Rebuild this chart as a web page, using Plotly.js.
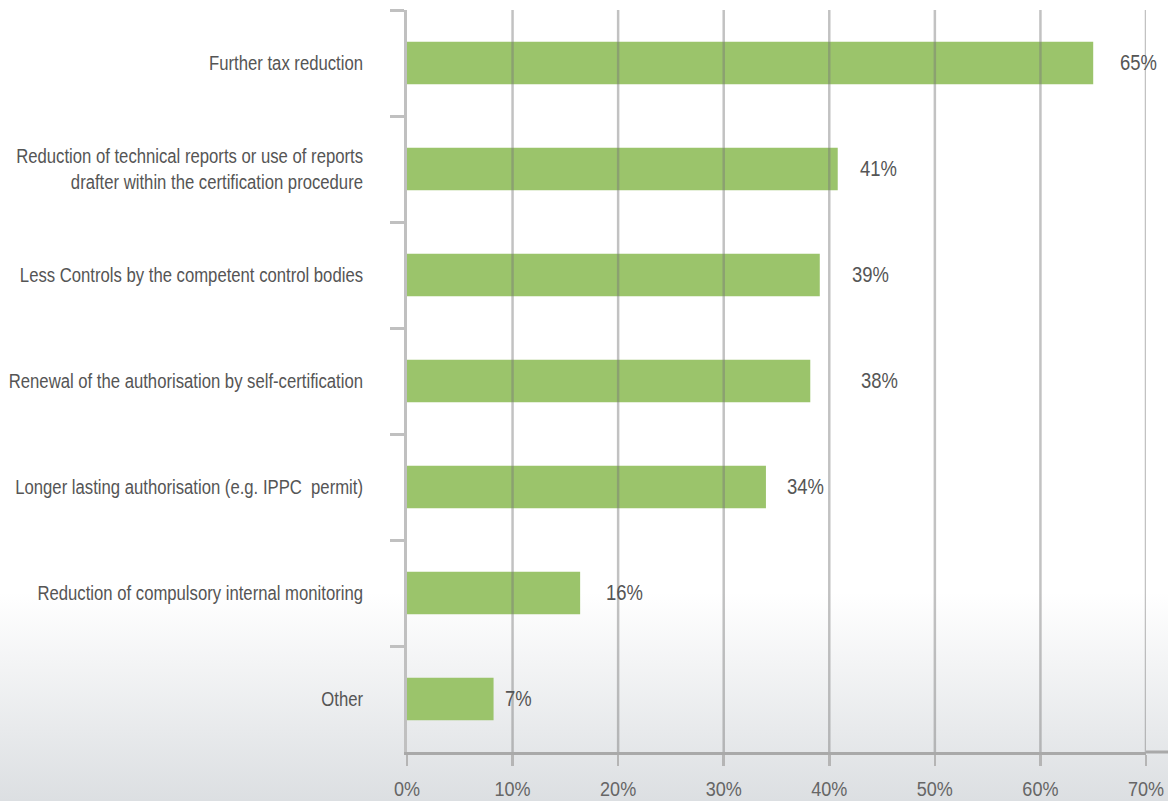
<!DOCTYPE html>
<html>
<head>
<meta charset="utf-8">
<script src="https://cdn.plot.ly/plotly-3.0.1.min.js"></script>
<style>
  html, body { margin: 0; padding: 0; width: 1168px; height: 801px; overflow: hidden;
    background: linear-gradient(to bottom, #ffffff 0%, #ffffff 74%, #dcdfe2 100%); }
  #chart { width: 1168px; height: 801px; }
</style>
</head>
<body>
<div id="chart"></div>
<script>
// ---- data ----
const categories = [
  "Further tax reduction",
  "Reduction of technical reports or use of reports<br>drafter within the certification procedure",
  "Less Controls by the competent control bodies",
  "Renewal of the authorisation by self-certification",
  "Longer lasting authorisation (e.g. IPPC  permit)",
  "Reduction of compulsory internal monitoring",
  "Other"
];
const values = [65, 40.8, 39.1, 38.2, 34.0, 16.4, 8.2];
const valueLabels = ["65%", "41%", "39%", "38%", "34%", "16%", "7%"];
const tickValues = [0, 10, 20, 30, 40, 50, 60, 70];
const tickLabels = ["0%", "10%", "20%", "30%", "40%", "50%", "60%", "70%"];

// ---- styling ----
const FONT = '"Liberation Sans", Arial, sans-serif';
const TEXT = '#555555';
const labelShift = [25, 20, 30, 49, 19, 24, 9];

const trace = {
  type: 'bar',
  orientation: 'h',
  x: values,
  y: categories,
  marker: { color: '#9bc46b', line: { width: 0 } },
  hoverinfo: 'none'
};

const annotations = values.map((v, i) => ({
  x: v, y: categories[i], xref: 'x', yref: 'y',
  text: valueLabels[i], showarrow: false,
  xanchor: 'left', yanchor: 'middle', xshift: labelShift[i], yshift: 1,
  font: { family: FONT, size: 22, color: TEXT }
}));

const shapes = tickValues.filter(t => t > 0).map(t => ({
  type: 'line', xref: 'x', yref: 'paper', x0: t, x1: t, y0: 0, y1: 1,
  line: { color: 'rgba(120,120,120,0.45)', width: 2.5 }, layer: 'above'
}));
// extension of the bottom axis line to the right edge
shapes.push({
  type: 'line', xref: 'paper', yref: 'paper', x0: 1, x1: 1.03, y0: 0, y1: 0,
  line: { color: '#a9a9a9', width: 3 }, layer: 'above'
});

const layout = {
  width: 1168, height: 801,
  margin: { l: 407, r: 22, t: 10, b: 49, pad: 0 },
  paper_bgcolor: 'rgba(0,0,0,0)',
  plot_bgcolor: 'rgba(0,0,0,0)',
  showlegend: false,
  bargap: 0.6,
  font: { family: FONT, color: TEXT },
  xaxis: {
    range: [0, 70],
    tickvals: tickValues, ticktext: tickLabels,
    showgrid: false, zeroline: false,
    showline: true, linecolor: '#a9a9a9', linewidth: 3,
    ticks: 'outside', ticklen: 11, tickwidth: 2.5, tickcolor: '#b5b5b5',
    tickfont: { family: FONT, size: 21, color: '#666666' },
    ticklabelstandoff: 5,
    fixedrange: true
  },
  yaxis: {
    autorange: 'reversed',
    type: 'category',
    tickson: 'boundaries',
    ticks: 'outside', ticklen: 14, tickwidth: 3, tickcolor: '#c0c0c0',
    showline: true, linecolor: '#c0c0c0', linewidth: 3,
    showgrid: false, zeroline: false,
    tickfont: { family: FONT, size: 20, color: TEXT },
    ticklabelstandoff: 37,
    fixedrange: true
  },
  annotations: annotations,
  shapes: shapes
};

// condense text horizontally (the reference uses a condensed typeface)
function condense(selector, s, anchor) {
  document.querySelectorAll(selector).forEach(el => {
    const b = el.getBBox();
    const ax = anchor === 'end' ? b.x + b.width : anchor === 'start' ? b.x : b.x + b.width / 2;
    const t = el.getAttribute('transform') || '';
    el.setAttribute('transform', t + ' translate(' + ax + ',0) scale(' + s + ',1) translate(' + (-ax) + ',0)');
  });
}

Plotly.newPlot('chart', [trace], layout, { displayModeBar: false, staticPlot: true }).then(() => {
  condense('.ytick text', 0.835, 'end');
  condense('.xtick text', 0.86, 'middle');
  condense('.annotation-text', 0.84, 'start');
});
</script>
</body>
</html>
